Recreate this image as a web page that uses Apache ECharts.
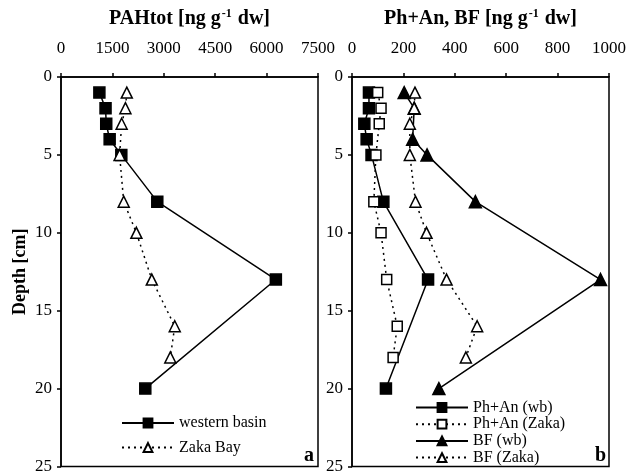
<!DOCTYPE html>
<html><head><meta charset="utf-8">
<script src="https://cdn.jsdelivr.net/npm/echarts@6/dist/echarts.min.js"></script>
<style>html,body{margin:0;padding:0;background:#fff}#c{width:631px;height:475px}</style>
</head><body><div id="c"></div>
<script>
// Panel a: PAHtot
const depthWB = [1, 2, 3, 4, 5, 8, 13, 20];
const depthZaka = [1, 2, 3, 5, 8, 10, 13, 16, 18];
const pahWB = [1120, 1300, 1320, 1420, 1760, 2810, 6270, 2460];
const pahZaka = [1920, 1880, 1770, 1710, 1830, 2200, 2650, 3320, 3190];
// Panel b: Ph+An and BF
const phanWB = [66, 66, 48, 57, 76, 122, 296, 132];
const phanZaka = [100, 113, 106, 93, 85, 113, 135, 176, 160];
const depthBFwb = [1, 2, 4, 5, 8, 13, 20];
const bfWB = [203, 242, 236, 292, 480, 967, 338];
const bfZaka = [245, 242, 225, 225, 247, 290, 368, 487, 443];
const xTicksA = [0, 1500, 3000, 4500, 6000, 7500];
const xTicksB = [0, 200, 400, 600, 800, 1000];
const yTicks = [0, 5, 10, 15, 20, 25];

const pairs = (xs, ds) => xs.map((v, i) => [v, ds[i]]);
const F = '"Liberation Serif", "Times New Roman", serif';
const axisLine = {show: true, lineStyle: {color: '#000', width: 1.5}};
const titleRich = {
  b: {fontFamily: F, fontWeight: 'bold', fontSize: 20, color: '#000'},
  s: {fontFamily: F, fontWeight: 'bold', fontSize: 12, color: '#000', padding: [0, 1, 10, 1]}
};
const solid = {color: '#000', width: 1.5, type: 'solid'};
const dotted = {color: '#000', width: 1.5, type: [2, 4]};

function xAx(idx, ticks, name) {
  return {
    type: 'value', gridIndex: idx, position: 'top', min: ticks[0], max: ticks[ticks.length - 1],
    interval: ticks[1] - ticks[0], splitLine: {show: false},
    axisLine: axisLine, axisTick: {show: true, length: 4, lineStyle: {color: '#000', width: 1.5}},
    axisLabel: {fontFamily: F, fontSize: 17, color: '#000', margin: 20, formatter: v => String(v)},
    name: name, nameLocation: 'middle', nameGap: 47, nameTextStyle: {rich: titleRich}
  };
}
function yAx(idx) {
  return {
    type: 'value', gridIndex: idx, inverse: true, min: yTicks[0], max: yTicks[yTicks.length - 1],
    interval: yTicks[1] - yTicks[0], splitLine: {show: false},
    axisLine: axisLine, axisTick: {show: true, length: 4, lineStyle: {color: '#000', width: 1.5}},
    axisLabel: {show: true, fontFamily: F, fontSize: 17, color: '#000', margin: 9, formatter: v => String(v)},
    name: idx === 0 ? 'Depth [cm]' : '', nameLocation: 'middle', nameRotate: 90, nameGap: 32,
    nameTextStyle: {fontFamily: F, fontWeight: 'bold', fontSize: 18, color: '#000'}
  };
}
function ser(name, xi, data, line, symbol, filled, size) {
  return {
    name: name, type: 'line', xAxisIndex: xi, yAxisIndex: xi, data: data,
    symbol: symbol, symbolSize: size, showAllSymbol: true,
    lineStyle: line,
    itemStyle: {color: filled ? '#000' : '#fff', borderColor: '#000', borderWidth: 1.5},
    z: filled ? 3 : 4, animation: false
  };
}
const legendText = {fontFamily: F, fontSize: 16, color: '#000', lineHeight: 16};
const chart = echarts.init(document.getElementById('c'));
chart.setOption({
  animation: false,
  grid: [
    {left: 61, right: 313, top: 77, bottom: 7, show: true, borderColor: '#000', borderWidth: 1.5},
    {left: 352, right: 22, top: 77, bottom: 7, show: true, borderColor: '#000', borderWidth: 1.5}
  ],
  xAxis: [xAx(0, xTicksA, '{b|PAHtot [ng g}{s|-1}{b| dw]}'), xAx(1, xTicksB, '{b|Ph+An, BF [ng g}{s|-1}{b| dw]}')],
  yAxis: [yAx(0), yAx(1)],
  legend: [
    {data: ['western basin', 'Zaka Bay'], orient: 'vertical', left: 121, top: 415, itemWidth: 52, itemHeight: 11,
     itemGap: 8.5, textStyle: legendText, padding: 0},
    {data: ['Ph+An (wb)', 'Ph+An (Zaka)', 'BF (wb)', 'BF (Zaka)'], orient: 'vertical', left: 415, top: 399.5,
     itemWidth: 52, itemHeight: 11, itemGap: 0.7, textStyle: legendText, padding: 0}
  ],
  series: [
    ser('western basin', 0, pairs(pahWB, depthWB), solid, 'rect', true, 11),
    ser('Zaka Bay', 0, pairs(pahZaka, depthZaka), dotted, 'triangle', false, 11),
    ser('Ph+An (wb)', 1, pairs(phanWB, depthWB), solid, 'rect', true, 11),
    ser('Ph+An (Zaka)', 1, pairs(phanZaka, depthZaka), dotted, 'rect', false, 10),
    ser('BF (wb)', 1, pairs(bfWB, depthBFwb), solid, 'triangle', true, 12),
    ser('BF (Zaka)', 1, pairs(bfZaka, depthZaka), dotted, 'triangle', false, 11)
  ],
  graphic: [
    {type: 'text', left: 304, top: 446, style: {text: 'a', font: 'bold 20px ' + F, fill: '#000'}},
    {type: 'text', left: 595, top: 446, style: {text: 'b', font: 'bold 20px ' + F, fill: '#000'}}
  ]
});
</script></body></html>
